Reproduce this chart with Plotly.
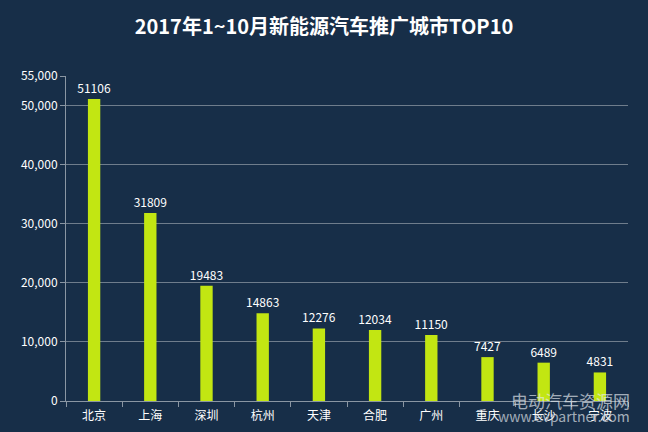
import plotly.graph_objects as go

cities = ["北京", "上海", "深圳", "杭州", "天津", "合肥", "广州", "重庆", "长沙", "宁波"]
sales = [51106, 31809, 19483, 14863, 12276, 12034, 11150, 7427, 6489, 4831]
ytick_vals = [0, 10000, 20000, 30000, 40000, 50000, 55000]
ytick_text = ["0", "10,000", "20,000", "30,000", "40,000", "50,000", "55,000"]

BG = "#172e48"
FONT = "Noto Sans CJK SC"

fig = go.Figure()
fig.add_trace(go.Bar(
    x=cities, y=sales,
    marker=dict(color="#c2e612", line=dict(width=0)),
    text=[str(v) for v in sales],
    textposition="outside",
    constraintext="none",
    textfont=dict(color="white", size=12, family=FONT),
    cliponaxis=False,
))

fig.update_layout(
    width=648, height=432,
    paper_bgcolor=BG, plot_bgcolor=BG,
    margin=dict(l=66, r=20, t=76, b=31),
    bargap=0.78,
    showlegend=False,
    title=dict(text="<b>2017年1~10月新能源汽车推广城市TOP10</b>", x=0.5, xanchor="center",
               y=0.937, yanchor="middle",
               font=dict(color="white", size=20, family=FONT)),
    font=dict(family=FONT, color="white", size=12),
)
fig.update_xaxes(
    type="category", automargin=False,
    showline=True, linecolor="#8a96a3", linewidth=1,
    ticks="outside", tickson="boundaries", ticklen=5, tickcolor="#8a96a3",
    showgrid=False, ticklabelstandoff=4,
    tickfont=dict(color="white", size=12, family=FONT),
)
fig.update_yaxes(
    range=[0, 55000], automargin=False,
    tickvals=ytick_vals, ticktext=ytick_text,
    showline=True, linecolor="#8a96a3", linewidth=1,
    ticks="outside", ticklen=5, tickcolor="#8a96a3",
    showgrid=True, gridcolor="#6f7d8c", gridwidth=1,
    zeroline=False,
    tickfont=dict(color="white", size=12, family=FONT),
)

fig.add_annotation(text="电动汽车资源网", xref="paper", yref="paper", x=1.007, y=0.046,
                   xanchor="right", yanchor="top", showarrow=False,
                   font=dict(color="rgba(225,230,236,0.7)", size=17, family=FONT))
fig.add_annotation(text="www.evpartner.com", xref="paper", yref="paper", x=1.007, y=-0.01,
                   xanchor="right", yanchor="top", showarrow=False,
                   font=dict(color="rgba(225,230,236,0.7)", size=14, family=FONT))

fig.write_html("out.html", config={"displayModeBar": False},
               post_script="document.body.style.margin='0';document.body.style.overflow='hidden';")
